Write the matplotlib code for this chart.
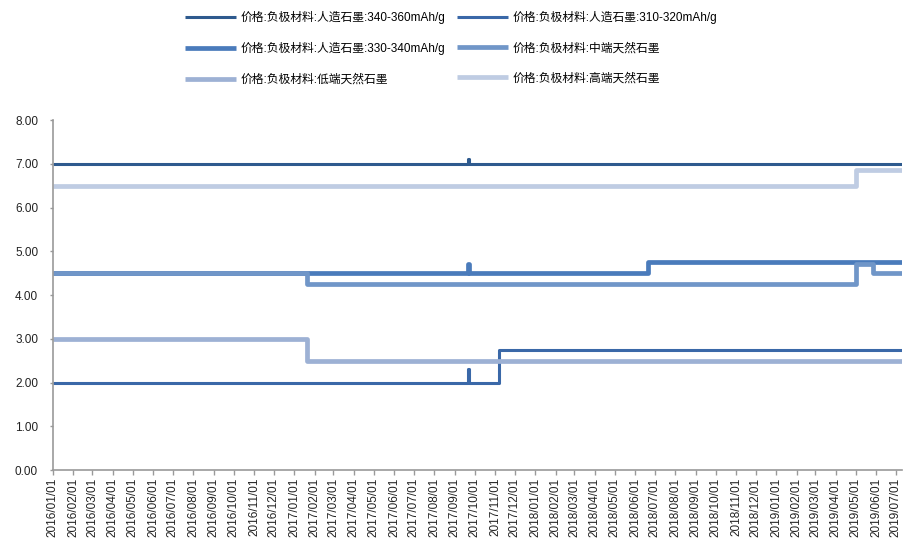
import matplotlib
matplotlib.use('Agg')
import matplotlib.pyplot as plt
import matplotlib.dates as mdates
import pandas as pd

plt.rcParams['font.family'] = ['Liberation Sans', 'Noto Sans CJK SC', 'DejaVu Sans']

# price change points (wan yuan / ton), held until the next date
s340_dates = ['2016-01-01', '2017-09-21', '2017-09-22', '2019-07-10']
s340_vals = [7.00, 7.10, 7.00, 7.00]

s310_dates = ['2016-01-01', '2017-09-21', '2017-09-22', '2017-11-07', '2019-07-10']
s310_vals = [2.00, 2.30, 2.00, 2.75, 2.75]

s330_dates = ['2016-01-01', '2017-09-21', '2017-09-22', '2018-06-21', '2019-07-10']
s330_vals = [4.50, 4.72, 4.50, 4.75, 4.75]

mid_dates = ['2016-01-01', '2017-01-20', '2019-05-01', '2019-05-28', '2019-07-10']
mid_vals = [4.50, 4.25, 4.70, 4.50, 4.50]

low_dates = ['2016-01-01', '2017-01-20', '2019-07-10']
low_vals = [3.00, 2.50, 2.50]

high_dates = ['2016-01-01', '2019-05-01', '2019-07-10']
high_vals = [6.50, 6.85, 6.85]

labels = ['价格:负极材料:人造石墨:340-360mAh/g', '价格:负极材料:人造石墨:310-320mAh/g',
          '价格:负极材料:人造石墨:330-340mAh/g', '价格:负极材料:中端天然石墨',
          '价格:负极材料:低端天然石墨', '价格:负极材料:高端天然石墨']
colors = ['#2e5a8e', '#3a68a8', '#4a7bbb', '#7096c8', '#9db1d4', '#bfcce3']
widths = [2.2, 2.2, 3.4, 3.4, 3.4, 3.4]

series = [(s340_dates, s340_vals), (s310_dates, s310_vals), (s330_dates, s330_vals),
          (mid_dates, mid_vals), (low_dates, low_vals), (high_dates, high_vals)]

fig = plt.figure(figsize=(9.15, 5.48), dpi=100)
ax = fig.add_axes([0.0576, 0.1423, 0.928, 0.6387])

lines = []
for (d, v), lab, c, w in zip(series, labels, colors, widths):
    ln, = ax.plot(pd.to_datetime(d), v, drawstyle='steps-post', color=c, lw=w, label=lab,
                  solid_joinstyle='round', solid_capstyle='butt')
    lines.append(ln)

ax.set_ylim(0, 8)
ax.set_yticks([0, 1, 2, 3, 4, 5, 6, 7, 8])
ax.yaxis.set_major_formatter(plt.FormatStrFormatter('%.2f'))
ax.set_xlim(pd.Timestamp('2016-01-01'), pd.Timestamp('2019-07-10'))
ax.xaxis.set_major_locator(mdates.MonthLocator(bymonthday=1))
ax.xaxis.set_major_formatter(mdates.DateFormatter('%Y/%m/%d'))

for s in ['top', 'right']:
    ax.spines[s].set_visible(False)
for s in ['left', 'bottom']:
    ax.spines[s].set_color('#999999')
    ax.spines[s].set_linewidth(1.2)

ax.tick_params(axis='x', direction='out', length=3.5, width=1, color='#999999',
               labelsize=8.5, labelcolor='#222222', pad=2, labelrotation=90)
ax.tick_params(axis='y', direction='out', length=2.5, width=1, color='#999999',
               labelsize=8.5, labelcolor='#222222', pad=8)

# legend is filled row by row in the reference
order = [0, 2, 4, 1, 3, 5]
fig.legend([lines[i] for i in order], [labels[i] for i in order],
           loc='upper left', bbox_to_anchor=(185 / 915, 1 - 11 / 548), ncol=2, frameon=False,
           fontsize=8.5, handlelength=4.3, handletextpad=0.4, columnspacing=1.0,
           labelspacing=1.55, borderpad=0, borderaxespad=0)

fig.savefig('out.png', dpi=100)
